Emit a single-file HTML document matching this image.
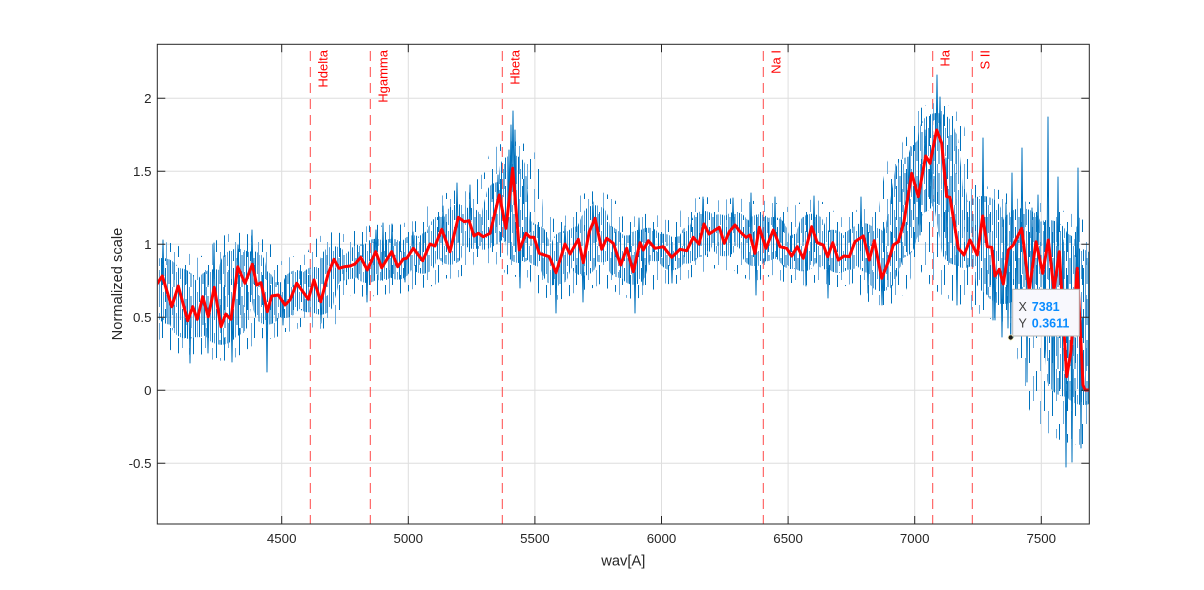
<!DOCTYPE html>
<html>
<head>
<meta charset="utf-8">
<style>
  html,body{margin:0;padding:0;background:#fff;}
  svg{display:block;}
  text{font-family:"Liberation Sans",Arial,sans-serif;}
</style>
</head>
<body>
<svg width="1204" height="590" viewBox="0 0 1204 590" xmlns="http://www.w3.org/2000/svg" xmlns:xlink="http://www.w3.org/1999/xlink">
  <defs>
    <clipPath id="plotclip"><rect x="157.8" y="44.8" width="931" height="478.7"/></clipPath>
    <pattern id="pc" patternUnits="userSpaceOnUse" width="17" height="41">
      <path d="M0.5 0V41M4 9V41M8.5 0V41M12.5 0V15M12.5 22V41M16 12V38" stroke="#0072BD" stroke-width="1" fill="none"/>
      <path d="M2.5 0V28M6.5 0V20M6.5 26V41M10.5 5V33M14.5 0V41" stroke="#5aa2d8" stroke-width="1" fill="none"/>
    </pattern>
    <pattern id="pf" patternUnits="userSpaceOnUse" width="23" height="53">
      <path d="M1.5 0V20M9.5 10V40M17.5 20V45" stroke="#0072BD" stroke-width="1" fill="none"/>
      <path d="M5.5 30V53M13.5 0V15M13.5 40V53M21.5 5V30" stroke="#6aaadb" stroke-width="1" fill="none"/>
    </pattern>
    <polyline id="rc" fill="none" stroke-linejoin="round" stroke-linecap="round" points="157,284 162.3,276 171.7,306.7 178.3,286 187.7,320.7 192.7,306.7 197.3,319.3 202.7,296.7 208.3,316.7 214.3,287.3 221,326.7 225.7,314 231,319.3 237.7,266.7 245,283.3 252.3,264.3 256.7,285 261,282.7 267.3,311.7 271.7,296 278.3,295 285,305 290,300 296.7,283.3 301.7,290 308.3,299.3 314,280 320.7,301.7 328.3,273.3 334,259.3 339,268.3 344.3,266.7 350,266 355,264 360.7,257.3 367.3,270 375.7,251.7 381.7,267.7 391.7,251.7 397.7,266.7 403.3,259 406.7,258.3 413.3,248.3 422.7,260.7 430,244 435,246 441.7,229.3 450,251.7 458.3,217.3 464.3,221.7 469,220.7 474,236 478.3,233.3 483.3,236.7 490,233.3 499.3,195 506,228.3 512.7,168.3 519.3,250 526,233.3 530,237.3 534,237.3 539.3,253.3 549.3,256.7 556,272.7 565,244 570,254 578.3,239.3 583.3,262.7 589.3,231.7 595,218.3 601.7,249.3 606.7,238.3 613.3,243.3 620.7,265 626.7,248.3 633.3,271.7 640,242.7 643.3,250 648.3,240.7 655,248.3 663.3,246.7 671.7,257.3 680,249.3 686.7,250.7 693.3,237.3 699,244 704,224 709,234 714,230.7 719.3,227.3 724.3,243.3 729.3,231.7 735,225 740,231.7 746,237.3 750,235 755,253.3 759.3,227.3 766,248.3 773.3,230 780,246.7 786.7,248.3 791.7,256 797.3,246.7 803.3,258.3 811.7,226.7 817.3,242.7 823.3,245 827.7,256.7 832.7,242.7 838.3,260 844,256 849.3,256.7 855,241.7 863.3,236 869.3,260 874.3,240.7 881.7,278.3 888.3,261.7 893.3,245 898.3,241.7 904,221.7 911.7,173.3 918.3,196.7 925.7,156 930,163.3 936.7,130 941.7,143.3 946.7,196.7 950,197.3 958.3,248.3 964,255 970,240 977.3,255 982.7,216 987.3,246.7 991.7,247.3 995,276 999.3,269.3 1003.3,284 1008.3,250 1013.3,245 1021.7,228.3 1029.3,290 1036,241.7 1042.7,273.3 1048.3,240 1054,290 1059.3,251.7 1066.7,376.7 1070.7,353.3 1077.3,268.3 1083,385 1085,390 1090,390"/>
    <polyline id="lc" fill="none" stroke-linejoin="round" stroke-linecap="round" points="157,284 162.3,276 171.7,306.7 178.3,286 187.7,320.7 192.7,306.7 197.3,319.3 202.7,296.7 208.3,316.7 214.3,287.3 221,326.7 225.7,314 231,319.3 237.7,266.7 245,283.3"/>
    <polyline id="hc" fill="none" stroke-linejoin="round" stroke-linecap="round" points="898.3,241.7 904,221.7 911.7,173.3 918.3,196.7 925.7,156 930,163.3 936.7,130 941.7,143.3 946.7,196.7 950,197.3 958.3,248.3"/>
    <polyline id="xc" fill="none" stroke-linejoin="round" stroke-linecap="round" points="982.7,216 987.3,246.7 991.7,247.3 995,276 999.3,269.3 1003.3,284 1008.3,250 1013.3,245 1021.7,228.3 1029.3,290 1036,241.7 1042.7,273.3 1048.3,240 1054,290 1059.3,251.7 1066.7,376.7 1070.7,353.3 1077.3,268.3 1083,385"/>
  </defs>
  <rect x="0" y="0" width="1204" height="590" fill="#ffffff"/>

  <!-- grid -->
  <g stroke="#dedede" stroke-width="1">
    <line x1="281.7" y1="44.3" x2="281.7" y2="524"/>
    <line x1="408.3" y1="44.3" x2="408.3" y2="524"/>
    <line x1="534.9" y1="44.3" x2="534.9" y2="524"/>
    <line x1="661.5" y1="44.3" x2="661.5" y2="524"/>
    <line x1="788.1" y1="44.3" x2="788.1" y2="524"/>
    <line x1="914.7" y1="44.3" x2="914.7" y2="524"/>
    <line x1="1041.3" y1="44.3" x2="1041.3" y2="524"/>
    <line x1="157.3" y1="98.3" x2="1089.3" y2="98.3"/>
    <line x1="157.3" y1="171.3" x2="1089.3" y2="171.3"/>
    <line x1="157.3" y1="244.3" x2="1089.3" y2="244.3"/>
    <line x1="157.3" y1="317.3" x2="1089.3" y2="317.3"/>
    <line x1="157.3" y1="390.3" x2="1089.3" y2="390.3"/>
    <line x1="157.3" y1="463.3" x2="1089.3" y2="463.3"/>
  </g>

  <!-- dashed marker lines -->
  <g stroke="#ff4a4a" stroke-width="1" stroke-dasharray="10,6">
    <line x1="310.3" y1="51" x2="310.3" y2="524"/>
    <line x1="370.3" y1="51" x2="370.3" y2="524"/>
    <line x1="502.3" y1="51" x2="502.3" y2="524"/>
    <line x1="763.3" y1="51" x2="763.3" y2="524"/>
    <line x1="932.7" y1="51" x2="932.7" y2="524"/>
    <line x1="972.3" y1="51" x2="972.3" y2="524"/>
  </g>
  <g fill="#ff0000" font-size="13" text-anchor="end">
    <text x="327.3" y="50" transform="rotate(-90 327.3 50)">Hdelta</text>
    <text x="387.3" y="50" transform="rotate(-90 387.3 50)">Hgamma</text>
    <text x="519.3" y="50" transform="rotate(-90 519.3 50)">Hbeta</text>
    <text x="780.3" y="50" transform="rotate(-90 780.3 50)">Na I</text>
    <text x="949.7" y="50" transform="rotate(-90 949.7 50)">Ha</text>
    <text x="989.3" y="50" transform="rotate(-90 989.3 50)">S II</text>
  </g>

  <g clip-path="url(#plotclip)">
    <!-- blue spectrum approximated as hatched bands -->
    <use xlink:href="#rc" href="#rc" stroke="url(#pf)" stroke-width="54"/>
    <use xlink:href="#rc" href="#rc" stroke="url(#pc)" stroke-width="26"/>
    <use xlink:href="#lc" href="#lc" stroke="url(#pf)" stroke-width="68"/>
    <use xlink:href="#lc" href="#lc" stroke="url(#pc)" stroke-width="36"/>
    <use xlink:href="#hc" href="#hc" stroke="url(#pc)" stroke-width="34"/>
    <polyline fill="none" stroke="url(#pf)" stroke-width="120" stroke-linejoin="round" stroke-linecap="round" points="975,245 990,252 1010,262 1030,262 1050,270 1062,300 1070,330 1078,320 1084,385"/>
    <use xlink:href="#xc" href="#xc" stroke="url(#pc)" stroke-width="40"/>
    <!-- spikes -->
    <path fill="none" stroke="#0072BD" stroke-width="1" stroke-linejoin="round" d="M162.2 276L163 240L163.8 276M189.2 314L190 363L190.8 314M207.2 315L208 353L208.8 315M213.2 288L214 243L214.8 288M231.2 315L232 362L232.8 315M237.2 268L238 245L238.8 268M251.2 265L252 230L252.8 265M266.2 310L267 372L267.8 310M282.2 300L283 325L283.8 300M320.2 300L321 323L321.8 300M366.2 268L367 302L367.8 268M375.2 252L376 230L376.8 252M382.2 265L383 223L383.8 265M391.2 252L392 224L392.8 252M404.2 258L405 282L405.8 258M412.2 249L413 232L413.8 249M442.2 232L443 206L443.8 232M456.2 220L457 183L457.8 220M469.2 222L470 185L470.8 222M497.2 200L498 175L498.8 200M508.2 200L509 150L509.8 200M510.2 180L511 125L511.8 180M512.2 168L513 111L513.8 168M514.2 190L515 130L515.8 190M519.2 250L520 288L520.8 250M555.2 272L556 313L556.8 272M564.2 244L565 226L565.8 244M582.2 262L583 302L583.8 262M592.2 225L593 202L593.8 225M634.2 265L635 313L635.8 265M638.2 245L639 218L639.8 245M642.2 250L643 285L643.8 250M671.2 257L672 283L672.8 257M702.2 226L703 197L703.8 226M732.2 226L733 198L733.8 226M750.2 236L751 193L751.8 236M755.2 252L756 295L756.8 252M774.2 236L775 197L775.8 236M805.2 250L806 286L806.8 250M813.2 232L814 196L814.8 232M827.2 255L828 298L828.8 255M860.2 238L861 197L861.8 238M867.2 258L868 293L868.8 258M881.2 276L882 305L882.8 276M908.2 190L909 157L909.8 190M919.2 185L920 235L920.8 185M924.2 158L925 130L925.8 158M930.2 160L931 203L931.8 160M936.2 131L937 75L937.8 131M939.2 138L940 97L940.8 138M945.2 190L946 158L946.8 190M946.2 195L947 255L947.8 195M956.2 245L957 305L957.8 245M982.2 220L983 138L983.8 220M992.2 250L993 320L993.8 250M994.2 276L995 320L995.8 276M1001.2 280L1002 337L1002.8 280M1005.2 260L1006 203L1006.8 260M1007.2 250L1008 328L1008.8 250M1010.2 247L1010.8 337.5L1011.4 247M1011.2 245L1012 173L1012.8 245M1016.2 240L1017 300L1017.8 240M1021.2 228L1022 148L1022.8 228M1026.2 275L1027 382L1027.8 275M1031.2 270L1032 208L1032.8 270M1037.2 245L1038 195L1038.8 245M1043.2 270L1044 330L1044.8 270M1047.2 242L1048 117L1048.8 242M1052.2 280L1053 387L1053.8 280M1057.2 258L1058 177L1058.8 258M1062.2 300L1063 240L1063.8 300M1065.2 370L1066 467L1066.8 370M1071.2 345L1072 462L1072.8 345M1076.2 275L1077 227L1077.8 275M1077.2 270L1078 168L1078.8 270M1080.2 320L1081 448L1081.8 320"/>
    <!-- red smoothed curve -->
    <use xlink:href="#rc" href="#rc" stroke="#ff0000" stroke-width="3"/>
  </g>

  <!-- axes box -->
  <rect x="157.3" y="44.3" width="932" height="479.7" fill="none" stroke="#262626" stroke-width="1"/>
  <path stroke="#262626" stroke-width="1" fill="none" d="M281.7 524V516M281.7 44.3V52.3M408.3 524V516M408.3 44.3V52.3M534.9 524V516M534.9 44.3V52.3M661.5 524V516M661.5 44.3V52.3M788.1 524V516M788.1 44.3V52.3M914.7 524V516M914.7 44.3V52.3M1041.3 524V516M1041.3 44.3V52.3M157.3 98.3H165.3M1089.3 98.3H1081.3M157.3 171.3H165.3M1089.3 171.3H1081.3M157.3 244.3H165.3M1089.3 244.3H1081.3M157.3 317.3H165.3M1089.3 317.3H1081.3M157.3 390.3H165.3M1089.3 390.3H1081.3M157.3 463.3H165.3M1089.3 463.3H1081.3"/>

  <!-- tick labels -->
  <g fill="#262626" font-size="13.3" text-anchor="middle">
    <text x="281.7" y="543">4500</text>
    <text x="408.3" y="543">5000</text>
    <text x="534.9" y="543">5500</text>
    <text x="661.5" y="543">6000</text>
    <text x="788.1" y="543">6500</text>
    <text x="914.7" y="543">7000</text>
    <text x="1041.3" y="543">7500</text>
  </g>
  <g fill="#262626" font-size="13.3" text-anchor="end">
    <text x="151.5" y="103.1">2</text>
    <text x="151.5" y="176.1">1.5</text>
    <text x="151.5" y="249.1">1</text>
    <text x="151.5" y="322.1">0.5</text>
    <text x="151.5" y="395.1">0</text>
    <text x="151.5" y="468.1">-0.5</text>
  </g>

  <!-- axis labels -->
  <text x="623.3" y="565.7" font-size="14.7" fill="#262626" text-anchor="middle">wav[A]</text>
  <text x="122" y="284" font-size="14.7" fill="#262626" text-anchor="middle" transform="rotate(-90 122 284)">Normalized scale</text>

  <!-- data tip -->
  <rect x="1012.7" y="289.3" width="66.6" height="46.7" fill="#f8f8fd" stroke="#b4b4b4" stroke-width="1"/>
  <g font-size="12.5">
    <text x="1018.5" y="311" fill="#404040">X</text>
    <text x="1031.8" y="311" fill="#0a8cff" font-weight="bold">7381</text>
    <text x="1018.5" y="327.5" fill="#404040">Y</text>
    <text x="1031.8" y="327.5" fill="#0a8cff" font-weight="bold">0.3611</text>
  </g>
  <circle cx="1010.7" cy="337.5" r="2.6" fill="#1a1a1a" stroke="#fff7c0" stroke-width="0.8"/>
</svg>
</body>
</html>
